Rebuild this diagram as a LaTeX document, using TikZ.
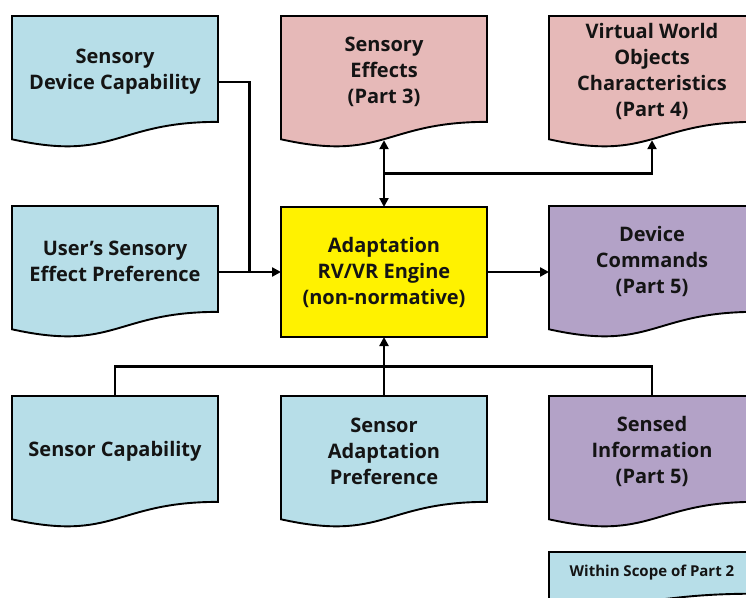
\documentclass[tikz,border=0pt]{standalone}
\usepackage{fontspec}
\setmainfont{Open Sans}
\usetikzlibrary{arrows.meta,calc}
\definecolor{lblue}{HTML}{B7DEE8}
\definecolor{lpink}{HTML}{E6B9B8}
\definecolor{lpurple}{HTML}{B3A2C7}
\definecolor{txtc}{HTML}{141414}
\tikzset{
 box/.style={minimum width=206pt, minimum height=132pt, inner sep=0pt, outer sep=0pt},
 txt/.style={font=\bfseries\fontsize{20}{26}\selectfont, align=center, text=txtc},
 smalltxt/.style={font=\bfseries\fontsize{15}{18}\selectfont, align=center, text=txtc},
 shp/.style={draw=black, line width=1.9pt},
 conn/.style={line width=2.6pt},
 arr/.style={conn,-{Triangle[length=9pt,width=9pt]}},
 darr/.style={conn,{Triangle[length=9pt,width=9pt]}-{Triangle[length=9pt,width=9pt]}},
}
\newcommand\docshape[3]{%
 \draw[shp,fill=#2] (#1.north west) -- (#1.north east) -- ([yshift={0.198*#3}]#1.south east)
   .. controls ([yshift={0.198*#3}]#1.south) and ([yshift={-0.1075*#3}]#1.south) ..
   ([yshift={0.066*#3}]#1.south west) -- cycle;}
\begin{document}
\begin{tikzpicture}[x=1pt,y=-1pt]
\useasboundingbox (0,0) rectangle (746,597);
\clip (0,0) rectangle (746,597);
% document frames
\node[box] (sdc) at (115,82) {};
\node[box] (se) at (384,82) {};
\node[box] (vw) at (652,82) {};
\node[box] (usp) at (115,272) {};
\node[box] (dc) at (652,272) {};
\node[box] (sc) at (115,462) {};
\node[box] (sap) at (384,462) {};
\node[box] (si) at (652,462) {};
\node[box, minimum height=52pt] (lg) at (652,578) {};
\docshape{sdc}{lblue}{132}
\docshape{se}{lpink}{132}
\docshape{vw}{lpink}{132}
\docshape{usp}{lblue}{132}
\docshape{dc}{lpurple}{132}
\docshape{sc}{lblue}{132}
\docshape{sap}{lblue}{132}
\docshape{si}{lpurple}{132}
\docshape{lg}{lblue}{52}
% engine
\node[shp, fill=yellow, minimum width=206pt, minimum height=130pt, inner sep=0pt, outer sep=0pt, txt] (eng) at (384,272) {Adaptation\\RV/VR Engine\\(non-normative)};
% texts
\node[txt] (tsdc) at ([yshift=10.5pt]sdc.center) {Sensory\\Device Capability};
\node[txt] (tse) at ([yshift=10.5pt]se.center) {Sensory\\Effects\\(Part 3)};
\node[txt] (tvw) at ([yshift=10.5pt]vw.center) {Virtual World\\Objects\\Characteristics\\(Part 4)};
\node[txt] (tusp) at ([yshift=10.5pt]usp.center) {User’s Sensory\\Effect Preference};
\node[txt] (tdc) at ([yshift=10.5pt]dc.center) {Device\\Commands\\(Part 5)};
\node[txt] (tsc) at ([yshift=10.5pt]sc.center) {Sensor Capability};
\node[txt] (tsap) at ([yshift=10.5pt]sap.center) {Sensor\\Adaptation\\Preference};
\node[txt] (tsi) at ([yshift=10.5pt]si.center) {Sensed\\Information\\(Part 5)};
\node[smalltxt] (tlg) at ([yshift=5pt]lg.center) {Within Scope of Part 2};
% connectors
\coordinate (mj) at ($(usp.east)!0.5!(eng.west)$);
\draw[conn] (sdc.east) -| (mj);
\draw[arr] (usp.east) -- (eng.west);
\draw[arr] (eng.east) -- (dc.west);
\coordinate (sep) at ([yshift=7.8pt]se.south);
\coordinate (vwp) at ([yshift=7.8pt]vw.south);
\draw[darr] (sep) -- (eng.north);
\coordinate (br) at ($(eng.north)!0.5!(sep)$);
\draw[arr] (br) -| (vwp);
\coordinate (bl) at ($(eng.south)!0.5!(sap.north)$);
\draw[conn] (sc.north) |- (bl) -| (si.north);
\draw[arr] (sap.north) -- (eng.south);
\end{tikzpicture}
\end{document}
